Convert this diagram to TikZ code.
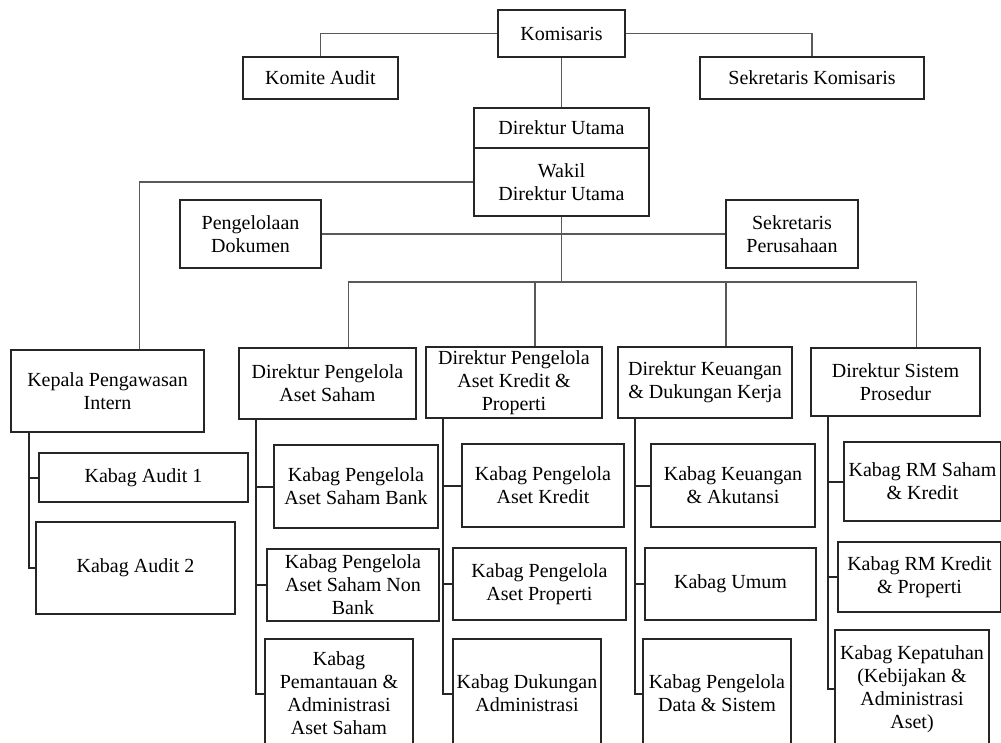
\documentclass[tikz,border=0pt]{standalone}
\usepackage{fontspec}
\setmainfont{Liberation Serif}
\begin{document}
\begin{tikzpicture}[x=1pt,y=-1pt,
	org node/.style = {rectangle,draw=black!85,line width=2pt,inner sep=0pt,align=center,
		font=\fontsize{20}{23}\selectfont},
	top line/.style = {draw=black!65,line width=1.1pt},
	sub line/.style = {draw=black!85,line width=2pt}]
	
	\fill[white] (0,0) rectangle (1001,742);
	\clip (0,0) rectangle (1001,742);
	
	% pimpinan
	\node[org node,minimum width=127pt,minimum height=47pt] (kom) at (561.5,33.5) {Komisaris};
	\node[org node,minimum width=155pt,minimum height=42pt] (komite) at (320.5,78) {Komite Audit};
	\node[org node,minimum width=224pt,minimum height=42pt] (sekkom) at (812,78) {Sekretaris Komisaris};
	\node[org node,minimum width=175pt,minimum height=40pt] (dirut) at (561.5,128) {Direktur Utama};
	\node[org node,minimum width=175pt,minimum height=68pt] (wadirut) at (561.5,182) {Wakil\\Direktur Utama};
	\node[org node,minimum width=141pt,minimum height=68pt] (dok) at (250.5,234) {Pengelolaan\\Dokumen};
	\node[org node,minimum width=132pt,minimum height=68pt] (sekper) at (792,234) {Sekretaris\\Perusahaan};
	\coordinate (bus) at (561.5,282);
	
	% direktur
	\node[org node,minimum width=193pt,minimum height=82pt] (spi) at (107.5,391) {Kepala Pengawasan\\Intern};
	\node[org node,minimum width=177pt,minimum height=71pt] (dsaham) at (327.5,383.5) {Direktur Pengelola\\Aset Saham};
	\node[org node,minimum width=176pt,minimum height=71pt] (dkredit) at (514,382.5) {Direktur Pengelola\\Aset Kredit \&\\Properti};
	\node[org node,minimum width=174pt,minimum height=71pt] (dkeu) at (705,382.5) {Direktur Keuangan\\\& Dukungan Kerja};
	\node[org node,minimum width=169pt,minimum height=68pt] (dsis) at (895.5,382) {Direktur Sistem\\Prosedur};
	
	% kabag
	\node[org node,minimum width=209pt,minimum height=49pt] (audit1) at (143.5,477.5) {Kabag Audit 1};
	\node[org node,minimum width=199pt,minimum height=92pt] (audit2) at (135.5,568) {Kabag Audit 2};
	\node[org node,minimum width=164pt,minimum height=83pt] (sbank) at (356,486.5) {Kabag Pengelola\\Aset Saham Bank};
	\node[org node,minimum width=172pt,minimum height=72pt] (snon) at (353,585) {Kabag Pengelola\\Aset Saham Non\\Bank};
	\node[org node,minimum width=148pt,minimum height=109pt] (spantau) at (339,693.5) {Kabag\\Pemantauan \&\\Administrasi\\Aset Saham};
	\node[org node,minimum width=162pt,minimum height=83pt] (kkredit) at (543,485.5) {Kabag Pengelola\\Aset Kredit};
	\node[org node,minimum width=173pt,minimum height=72pt] (kprop) at (539.5,584) {Kabag Pengelola\\Aset Properti};
	\node[org node,minimum width=148pt,minimum height=109pt] (kduk) at (527,693.5) {Kabag Dukungan\\Administrasi};
	\node[org node,minimum width=164pt,minimum height=83pt] (kkeu) at (733,485.5) {Kabag Keuangan\\\& Akutansi};
	\node[org node,minimum width=171pt,minimum height=72pt] (kumum) at (730.5,584) {Kabag Umum};
	\node[org node,minimum width=148pt,minimum height=109pt] (kdata) at (717,693.5) {Kabag Pengelola\\Data \& Sistem};
	\node[org node,minimum width=157pt,minimum height=79pt] (rmsaham) at (922.5,481.5) {Kabag RM Saham\\\& Kredit};
	\node[org node,minimum width=163pt,minimum height=70pt] (rmkredit) at (919.5,577) {Kabag RM Kredit\\\& Properti};
	\node[org node,minimum width=154pt,minimum height=118pt] (kpatuh) at (912,689) {Kabag Kepatuhan\\(Kebijakan \&\\Administrasi\\Aset)};
	
	% garis atas
	\draw[top line] (kom.west) -| (komite.north);
	\draw[top line] (kom.east) -| (sekkom.north);
	\draw[top line] (kom.south) -- (dirut.north);
	\draw[top line] (wadirut.west) -| ([xshift=32pt]spi.north);
	\draw[top line] (dok.east) -- (sekper.west);
	\draw[top line] (wadirut.south) -- (bus);
	\draw[top line] (bus) -| ([xshift=21pt]dsaham.north);
	\draw[top line] (bus) -| ([xshift=21pt]dkredit.north);
	\draw[top line] (bus) -| ([xshift=21pt]dkeu.north);
	\draw[top line] (bus) -| ([xshift=21pt]dsis.north);
	
	% garis kabag
	\draw[sub line] ([xshift=19pt]spi.south west) |- (audit1.west);
	\draw[sub line] ([xshift=19pt]spi.south west) |- (audit2.west);
	\foreach \d/\a/\b/\c in {dsaham/sbank/snon/spantau,dkredit/kkredit/kprop/kduk,
		dkeu/kkeu/kumum/kdata,dsis/rmsaham/rmkredit/kpatuh}{
		\draw[sub line] ([xshift=18pt]\d.south west) |- (\a.west);
		\draw[sub line] ([xshift=18pt]\d.south west) |- (\b.west);
		\draw[sub line] ([xshift=18pt]\d.south west) |- (\c.west);
	}
\end{tikzpicture}
\end{document}
